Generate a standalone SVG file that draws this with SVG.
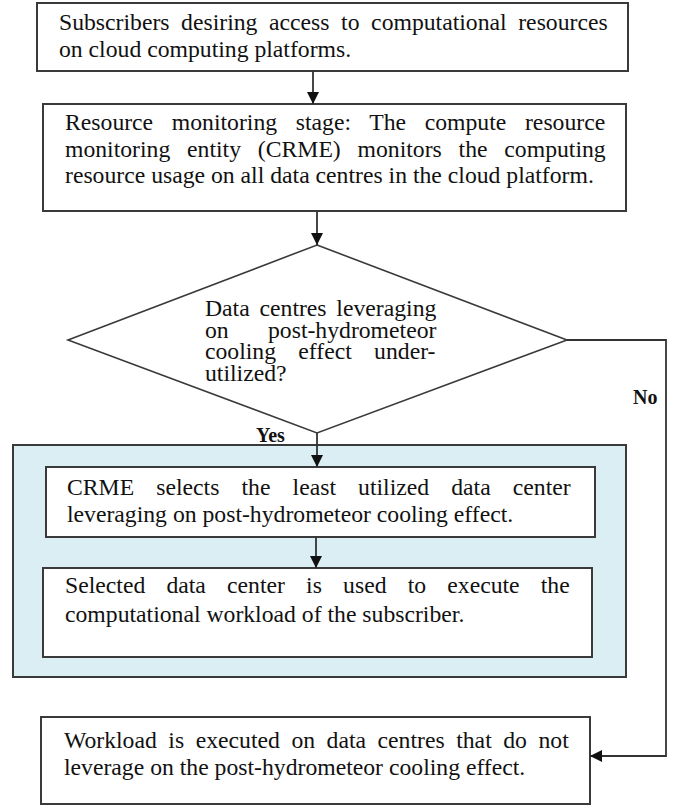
<svg xmlns="http://www.w3.org/2000/svg" width="678" height="806" viewBox="0 0 678 806">
  <style>
    .box { fill: #ffffff; stroke: #3a3a3a; stroke-width: 2; }
    .group { fill: #daeef3; stroke: #3a3a3a; stroke-width: 2; }
    .dec { fill: #ffffff; stroke: #3a3a3a; stroke-width: 1.6; }
    .t { font-family: "Liberation Serif", "Times New Roman", serif; font-size: 23.7px; fill: #111111; }
    .lbl { font-family: "Liberation Serif", "Times New Roman", serif; font-size: 20px; font-weight: bold; fill: #111111; }
    .wire { fill: none; stroke: #333333; stroke-width: 1.8; }
  </style>
  <defs>
    <marker id="arrow" viewBox="0 0 12 12" refX="12" refY="6" markerWidth="12" markerHeight="12" markerUnits="userSpaceOnUse" orient="auto">
      <path d="M0,0 L12,6 L0,12 Z" fill="#111111"/>
    </marker>
  </defs>

  <!-- container for the "Yes" branch -->
  <g id="yes-branch">
    <rect class="group" x="13" y="445" width="613" height="232"/>
  </g>

  <g id="subscribers">
    <rect class="box" x="37" y="3" width="591" height="68"/>
    <text class="t" x="59" y="30" style="word-spacing:5.67px">Subscribers desiring access to computational resources</text>
    <text class="t" x="59" y="57">on cloud computing platforms.</text>
  </g>

  <g id="monitoring">
    <rect class="box" x="43" y="104" width="583" height="107"/>
    <text class="t" x="65" y="130" style="word-spacing:12.75px">Resource monitoring stage: The compute resource</text>
    <text class="t" x="65" y="157" style="word-spacing:10.89px">monitoring entity (CRME) monitors the computing</text>
    <text class="t" x="65" y="183">resource usage on all data centres in the cloud platform.</text>
  </g>

  <g id="decision">
    <polygon class="dec" points="317,245 567,340 317,433 68,340"/>
    <text class="t" x="205" y="316" style="word-spacing:3.87px">Data centres leveraging</text>
    <text class="t" x="205" y="338" style="word-spacing:33.37px">on post-hydrometeor</text>
    <text class="t" x="205" y="359" style="word-spacing:16.37px">cooling effect under-</text>
    <text class="t" x="205" y="381">utilized?</text>
  </g>

  <g id="select">
    <rect class="box" x="46" y="467" width="549" height="70"/>
    <text class="t" x="67" y="495" style="word-spacing:16.2px">CRME selects the least utilized data center</text>
    <text class="t" x="67" y="522">leveraging on post-hydrometeor cooling effect.</text>
  </g>

  <g id="execute">
    <rect class="box" x="43" y="568" width="549" height="89"/>
    <text class="t" x="65" y="593" style="word-spacing:15.26px">Selected data center is used to execute the</text>
    <text class="t" x="65" y="622">computational workload of the subscriber.</text>
  </g>

  <g id="fallback">
    <rect class="box" x="41" y="717" width="549" height="87"/>
    <text class="t" x="64" y="748" style="word-spacing:5.61px">Workload is executed on data centres that do not</text>
    <text class="t" x="64" y="775">leverage on the post-hydrometeor cooling effect.</text>
  </g>

  <g id="connectors">
    <line class="wire" x1="313" y1="71" x2="313" y2="104" marker-end="url(#arrow)"/>
    <line class="wire" x1="317" y1="211" x2="317" y2="245" marker-end="url(#arrow)"/>
    <line class="wire" x1="317" y1="433" x2="317" y2="467" marker-end="url(#arrow)"/>
    <line class="wire" x1="316" y1="537" x2="316" y2="568" marker-end="url(#arrow)"/>
    <polyline class="wire" points="567,340 666,340 666,756 590,756" marker-end="url(#arrow)"/>
    <text class="lbl" x="256" y="442">Yes</text>
    <text class="lbl" x="633" y="404">No</text>
  </g>
</svg>
